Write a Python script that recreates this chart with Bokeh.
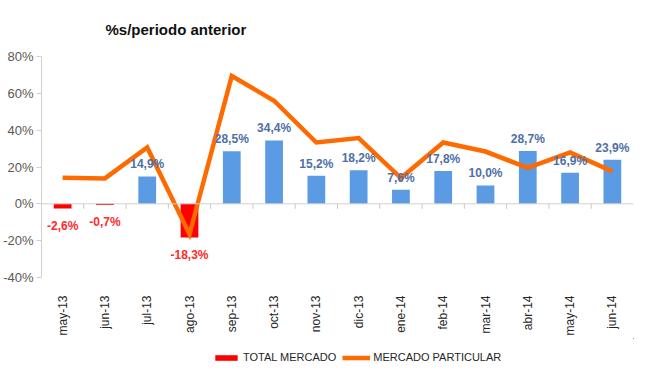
import math
from bokeh.plotting import figure
from bokeh.layouts import column
from bokeh.models import (ColumnDataSource, Range1d, FixedTicker, Legend, LegendItem,
                          Span, CustomJSTickFormatter)
from bokeh.core.properties import value
from bokeh.embed import file_html
from bokeh.resources import INLINE

months = ["may-13", "jun-13", "jul-13", "ago-13", "sep-13", "oct-13", "nov-13",
          "dic-13", "ene-14", "feb-14", "mar-14", "abr-14", "may-14", "jun-14"]
total_mercado = [-2.6, -0.7, 14.9, -18.3, 28.5, 34.4, 15.2, 18.2, 7.6, 17.8, 10.0, 28.7, 16.9, 23.9]
mercado_particular = [14.1, 13.8, 30.6, -16.5, 69.4, 56.0, 33.3, 35.7, 14.0, 33.3, 28.4, 19.5, 27.9, 17.6]
y_ticks = [-40, -20, 0, 20, 40, 60, 80]
series_names = ["TOTAL MERCADO", "MERCADO PARTICULAR"]

FONT = "Liberation Sans"
BLUE = "#5B9BE3"
RED = "#FF0000"
ORANGE = "#FF6A00"
BLUE_LBL = "#4E6FA6"
RED_LBL = "#FF2A2A"

xs = list(range(len(months)))
bar_colors = [RED if v < 0 else BLUE for v in total_mercado]
labels = [("%.1f%%" % v).replace(".", ",") for v in total_mercado]

src = ColumnDataSource(dict(x=xs, tm=total_mercado, mp=mercado_particular,
                            color=bar_colors, label=labels))
pos = ColumnDataSource(dict(x=[x for x, v in zip(xs, total_mercado) if v >= 0],
                            y=[v for v in total_mercado if v >= 0],
                            label=[l for l, v in zip(labels, total_mercado) if v >= 0]))
neg = ColumnDataSource(dict(x=[x for x, v in zip(xs, total_mercado) if v < 0],
                            y=[v for v in total_mercado if v < 0],
                            label=[l for l, v in zip(labels, total_mercado) if v < 0]))

p = figure(width=634, height=338, output_backend="svg", toolbar_location=None,
           x_range=Range1d(-0.5, len(months) - 0.5), y_range=Range1d(-40, 80),
           min_border_left=37, min_border_right=1, min_border_top=48, min_border_bottom=60)
p.outline_line_color = None
p.grid.visible = False
p.background_fill_color = "white"
p.border_fill_color = "white"

p.title.text = "%s/periodo anterior"
p.title.text_font = FONT
p.title.text_font_size = "15px"
p.title.text_font_style = "bold"
p.title.text_color = "#111111"
p.title.align = "left"
p.title.offset = 64
p.title.standoff = 37

# y axis
ya = p.yaxis[0]
ya.ticker = FixedTicker(ticks=y_ticks)
ya.formatter = CustomJSTickFormatter(code="return tick + '%';")
ya.axis_line_color = "#D0D0D0"
ya.major_tick_line_color = "#D0D0D0"
ya.major_tick_out = 5
ya.major_tick_in = 0
ya.minor_tick_line_color = None
ya.major_label_standoff = 3
ya.major_label_text_font = FONT
ya.major_label_text_font_size = "13px"
ya.major_label_text_color = "#595959"

# x axis (labels at bottom)
xa = p.xaxis[0]
xa.ticker = FixedTicker(ticks=xs)
xa.major_label_overrides = {i: m for i, m in enumerate(months)}
xa.axis_line_color = None
xa.major_tick_line_color = None
xa.minor_tick_line_color = None
xa.major_label_orientation = math.pi / 2
xa.major_label_standoff = 12
xa.major_label_text_font = FONT
xa.major_label_text_font_size = "12px"
xa.major_label_text_color = "#262626"

# zero line with category tick marks
p.add_layout(Span(location=0, dimension="width", line_color="#D0D0D0", line_width=1))
bounds = [i + 0.5 for i in xs[:-1]]
p.segment(x0=bounds, x1=bounds, y0=[0] * len(bounds), y1=[-2.7] * len(bounds),
          line_color="#C8C8C8", line_width=1)

bars = p.vbar(x="x", top="tm", bottom=0, width=0.42, source=src,
              fill_color="color", line_color=None)
line = p.line(x="x", y="mp", source=src, line_color=ORANGE, line_width=4.5,
              line_join="miter")

p.text(x="x", y="y", text="label", source=pos, text_align="center",
       text_baseline="bottom", y_offset=-5, text_font=value(FONT),
       text_font_size="12px", text_font_style="bold", text_color=BLUE_LBL)
p.text(x="x", y="y", text="label", source=neg, text_align="center",
       text_baseline="top", y_offset=10, text_font=value(FONT),
       text_font_size="12px", text_font_style="bold", text_color=RED_LBL)

# legend strip underneath (its plotting area shows no data: range is off the series)
lg = figure(width=634, height=31, output_backend="svg", toolbar_location=None,
            x_range=Range1d(-100, -99), y_range=Range1d(-100, -99),
            min_border_left=0, min_border_right=0, min_border_top=0, min_border_bottom=0)
lg.axis.visible = False
lg.grid.visible = False
lg.outline_line_color = None
lg_bar = lg.vbar(x=xs, top=total_mercado, width=0.42, fill_color=RED, line_color=None)
lg_line = lg.line(x=xs, y=mercado_particular, line_color=ORANGE, line_width=4.5)
legend = Legend(items=[LegendItem(label=series_names[0], renderers=[lg_bar]),
                       LegendItem(label=series_names[1], renderers=[lg_line])],
                orientation="horizontal", location=(171, 6),
                glyph_width=28, glyph_height=7, label_text_font=FONT,
                label_text_font_size="11px", label_text_color="#262626",
                label_standoff=3, spacing=6, padding=0, margin=0,
                border_line_color=None, background_fill_alpha=0, label_height=12)
lg.add_layout(legend, "center")

layout = column(p, lg, spacing=0)
open("out.html", "w").write(file_html(layout, INLINE))
